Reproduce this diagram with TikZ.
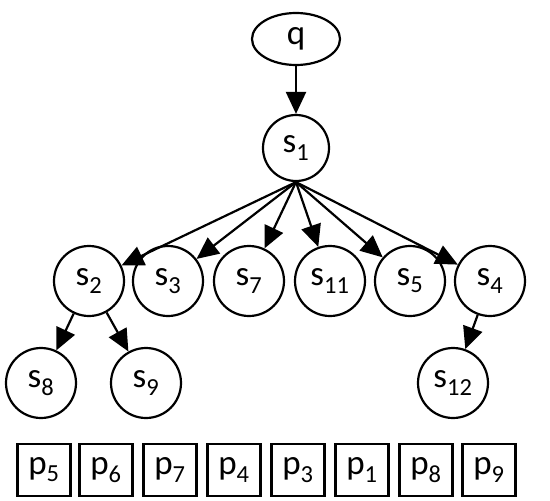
\documentclass[tikz,border=0pt]{standalone}
\usepackage{fontspec}
\setmainfont{Carlito}
\usetikzlibrary{arrows.meta,shapes.geometric}
\begin{document}
\begin{tikzpicture}[x=1pt,y=-1pt,
  every node/.style={font=\fontsize{35}{38}\selectfont, line width=2.2pt, inner sep=0pt},
  st/.style={circle, draw, minimum size=70pt},
  qn/.style={ellipse, draw, minimum width=88pt, minimum height=52pt},
  pb/.style={rectangle, draw, minimum width=53pt, minimum height=52pt},
  ar/.style={line width=2.2pt, -{Triangle[length=22pt,width=20pt]}},
  ln/.style={line width=2.2pt}]
\useasboundingbox (0,0) rectangle (550,501);
\node[qn] (q) at (296,39) {q};
\node[st, minimum size=66pt] (s1) at (296,148) {s$_{\mathrm{1}}$};
\node[st] (s2) at (89,281) {s$_{\mathrm{2}}$};
\node[st] (s3) at (168,281) {s$_{\mathrm{3}}$};
\node[st] (s7) at (249,281) {s$_{\mathrm{7}}$};
\node[st] (s11) at (330,281) {s$_{\mathrm{11}}$};
\node[st] (s5) at (410,281) {s$_{\mathrm{5}}$};
\node[st] (s4) at (490,281) {s$_{\mathrm{4}}$};
\node[st] (s8) at (41,383) {s$_{\mathrm{8}}$};
\node[st] (s9) at (146,383) {s$_{\mathrm{9}}$};
\node[st] (s12) at (453,383) {s$_{\mathrm{12}}$};
\foreach \i/\t/\x in {1/5/44,2/6/106,3/7/170,4/4/234,5/3/298,6/1/362,7/8/426,8/9/489}
  \node[pb] (p\i) at (\x,470) {p$_{\mathrm{\t}}$};
\draw[ar] (q) -- (s1);
\foreach \c in {s2,s3,s7,s11,s5,s4}
  \draw[ar] (s1.south) -- (\c);
\draw[ar] (s2) -- (s8);
\draw[ar] (s2) -- (s9);
\draw[ar] (s4) -- (s12);
\end{tikzpicture}
\end{document}
